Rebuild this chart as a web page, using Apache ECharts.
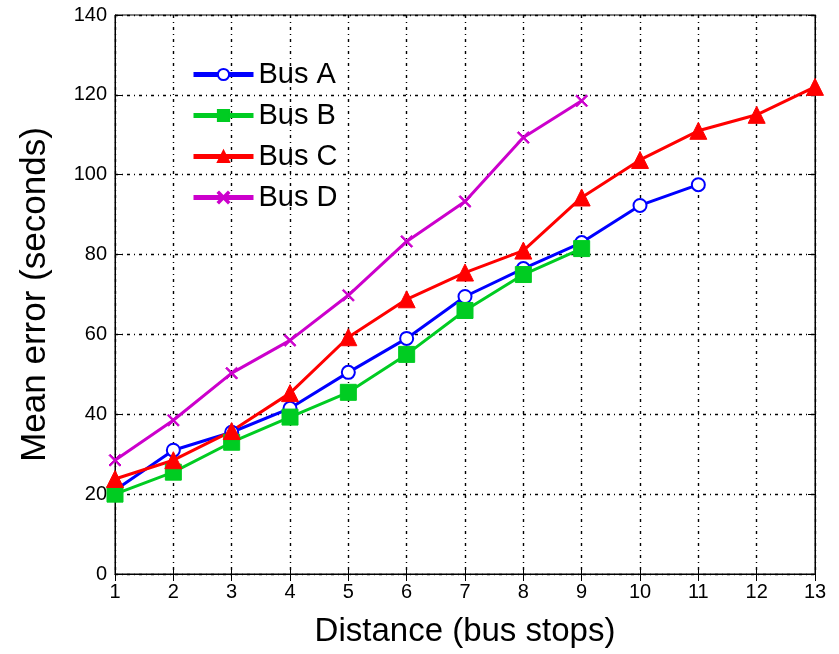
<!DOCTYPE html>
<html>
<head>
<meta charset="utf-8">
<script src="https://cdn.jsdelivr.net/npm/echarts@6/dist/echarts.min.js"></script>
<style>
html, body { margin: 0; padding: 0; background: #fff; }
#chart { width: 839px; height: 654px; }
</style>
</head>
<body>
<div id="chart"></div>
<script>
var stops = [1, 2, 3, 4, 5, 6, 7, 8, 9, 10, 11, 12, 13];
var busA = [21, 31, 35.5, 41.5, 50.5, 59, 69.5, 76.5, 83, 92.3, 97.5];
var busB = [20, 25.5, 33, 39.3, 45.5, 55, 66, 75, 81.5];
var busC = [23.8, 28.5, 35.8, 45.3, 59.3, 68.8, 75.5, 81, 94.3, 103.7, 111, 115, 122];
var busD = [28.5, 38.5, 50.3, 58.5, 69.8, 83.3, 93.3, 109.3, 118.5];

function pairs(vals) {
	return vals.map(function (v, i) { return [stops[i], v]; });
}

var font = 'Liberation Sans';
var crossPath = 'path://M0,1 L1,0 L5,4 L9,0 L10,1 L6,5 L10,9 L9,10 L5,6 L1,10 L0,9 L4,5 Z';
var gridLine = { show: true, lineStyle: { color: '#000', type: [3, 4, 1, 4], width: 1.4 } };

function line(name, color, symbol, size, vals) {
	return {
		name: name,
		type: 'line',
		data: pairs(vals),
		symbol: symbol,
		symbolSize: size,
		lineStyle: { color: color, width: 3 },
		itemStyle: { color: color, borderColor: color, borderWidth: symbol === 'emptyCircle' ? 2.5 : 1 },
		z: 3
	};
}

var myChart = echarts.init(document.getElementById('chart'));
var option = {
	animation: false,
	textStyle: { fontFamily: font },
	grid: { left: 115, right: 24, top: 15, bottom: 80, show: true, borderColor: '#000', borderWidth: 1 },
	legend: {
		left: 186,
		top: 55,
		orient: 'vertical',
		itemGap: 12,
		itemWidth: 60,
		itemHeight: 14,
		lineStyle: { width: 5 },
		textStyle: { fontSize: 29, fontFamily: font, color: '#000' },
		data: ['Bus A', 'Bus B', 'Bus C', 'Bus D']
	},
	xAxis: [{
		type: 'value',
		min: 1,
		max: 13,
		interval: 1,
		name: 'Distance (bus stops)',
		nameLocation: 'middle',
		nameGap: 41,
		nameTextStyle: { fontSize: 33, color: '#000', fontFamily: font },
		axisLine: { lineStyle: { color: '#000' } },
		axisTick: { inside: true, length: 7, lineStyle: { color: '#000' } },
		axisLabel: { fontSize: 20, color: '#000', margin: 8 },
		splitLine: gridLine
	}, {
		type: 'value',
		position: 'top',
		min: 1,
		max: 13,
		interval: 1,
		axisLine: { lineStyle: { color: '#000' } },
		axisTick: { inside: true, length: 7, lineStyle: { color: '#000' } },
		axisLabel: { show: false },
		splitLine: { show: false }
	}],
	yAxis: [{
		type: 'value',
		min: 0,
		max: 140,
		interval: 20,
		name: 'Mean error (seconds)',
		nameLocation: 'middle',
		nameGap: 62,
		nameTextStyle: { fontSize: 35, color: '#000', fontFamily: font },
		axisLine: { show: true, lineStyle: { color: '#000' } },
		axisTick: { show: true, inside: true, length: 7, lineStyle: { color: '#000' } },
		axisLabel: { fontSize: 20, color: '#000', margin: 8 },
		splitLine: gridLine
	}, {
		type: 'value',
		position: 'right',
		min: 0,
		max: 140,
		interval: 20,
		axisLine: { show: true, lineStyle: { color: '#000' } },
		axisTick: { show: true, inside: true, length: 7, lineStyle: { color: '#000' } },
		axisLabel: { show: false },
		splitLine: { show: false }
	}],
	series: [
		line('Bus A', '#0000ff', 'emptyCircle', 13, busA),
		line('Bus B', '#00cc22', 'rect', 16, busB),
		line('Bus C', '#ff0000', 'triangle', 17, busC),
		line('Bus D', '#cc00cc', crossPath, 12, busD)
	]
};
myChart.setOption(option);
</script>
</body>
</html>
